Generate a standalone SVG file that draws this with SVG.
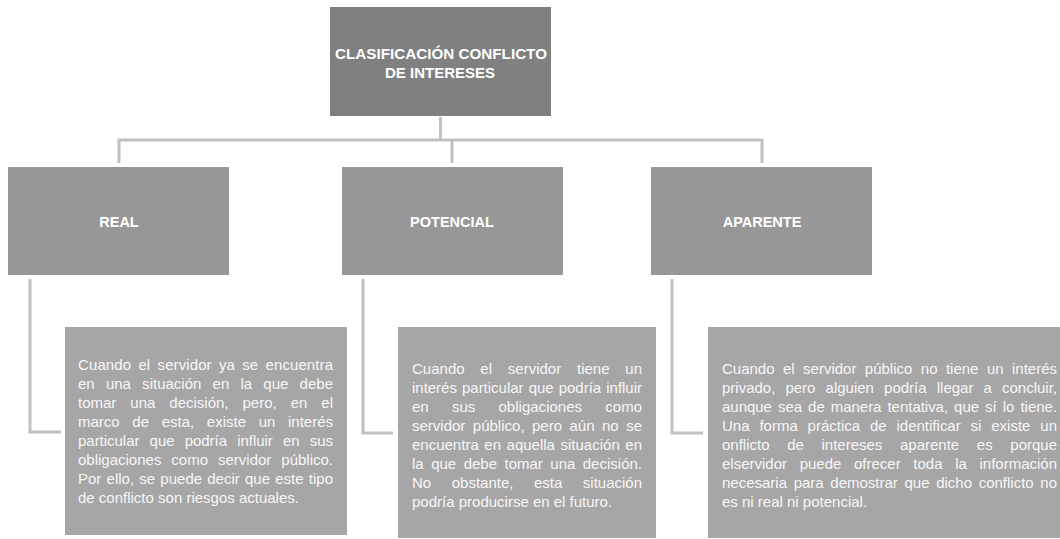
<svg xmlns="http://www.w3.org/2000/svg" width="1060" height="539" viewBox="0 0 1060 539">
<style>
.top{fill:#808080}
.l2{fill:#979797}
.l3{fill:#a6a6a6}
.h{font-family:"Liberation Sans",Arial,sans-serif;font-weight:bold;fill:#ffffff;text-anchor:middle}
.b{font-family:"Liberation Sans",Arial,sans-serif;font-size:15px;fill:#f7f7f7}
.c{fill:none;stroke:#c0c0c0;stroke-width:3}
</style>
<rect width="1060" height="539" fill="#ffffff"/>
<g id="connectors">
<path class="c" d="M440.5 117 V140"/>
<path class="c" d="M119 163 V140 H762 V163"/>
<path class="c" d="M452 140 V163"/>
<path class="c" d="M30 279 V432 H61"/>
<path class="c" d="M363 279 V433 H393"/>
<path class="c" d="M672 279 V433 H703"/>
</g>
<g id="root">
<rect class="top" x="330" y="7" width="221" height="109"/>
<text class="h" font-size="15" x="441" y="58.5" textLength="212" lengthAdjust="spacingAndGlyphs">CLASIFICACIÓN  CONFLICTO</text>
<text class="h" font-size="15" x="440" y="77.5">DE INTERESES</text>
</g>
<g id="real">
<rect class="l2" x="8" y="167" width="221" height="108"/>
<text class="h" font-size="14.5" x="119" y="227">REAL</text>
</g>
<g id="potencial">
<rect class="l2" x="342" y="167" width="221" height="108"/>
<text class="h" font-size="14.5" x="452" y="227">POTENCIAL</text>
</g>
<g id="aparente">
<rect class="l2" x="651" y="167" width="221" height="108"/>
<text class="h" font-size="14.5" x="762" y="227">APARENTE</text>
</g>
<g id="real-desc">
<rect class="l3" x="65" y="327" width="282" height="208"/>
<text class="b">
<tspan x="78" y="370" word-spacing="3" textLength="255" lengthAdjust="spacing">Cuando el servidor ya se encuentra</tspan>
</text>
<text class="b" x="78" y="389" word-spacing="7" textLength="255" lengthAdjust="spacing">en una situación en la que debe</text>
<text class="b" x="78" y="408" word-spacing="9.8" textLength="255" lengthAdjust="spacing">tomar una decisión, pero, en el</text>
<text class="b" x="78" y="427" word-spacing="8.5" textLength="255" lengthAdjust="spacing">marco de esta, existe un interés</text>
<text class="b" x="78" y="446" word-spacing="6" textLength="255" lengthAdjust="spacing">particular que podría influir en sus</text>
<text class="b" x="78" y="465" word-spacing="5.8" textLength="255" lengthAdjust="spacing">obligaciones como servidor público.</text>
<text class="b" x="78" y="484" word-spacing="1" textLength="255" lengthAdjust="spacing">Por ello, se puede decir que este tipo</text>
<text class="b" x="78" y="503">de conflicto  son riesgos actuales.</text>
</g>
<g id="potencial-desc">
<rect class="l3" x="398" y="327" width="258" height="211"/>
<text class="b" x="412" y="374" word-spacing="11.6" textLength="230" lengthAdjust="spacing">Cuando el servidor tiene un</text>
<text class="b" x="412" y="393" word-spacing="1" textLength="230" lengthAdjust="spacing">interés particular que podría influir</text>
<text class="b" x="412" y="412" word-spacing="19" textLength="230" lengthAdjust="spacing">en sus obligaciones como</text>
<text class="b" x="412" y="431" word-spacing="3.3" textLength="230" lengthAdjust="spacing">servidor público, pero aún no se</text>
<text class="b" x="412" y="450" word-spacing="1.4" textLength="230" lengthAdjust="spacing">encuentra en aquella situación en</text>
<text class="b" x="412" y="469" word-spacing="3.3" textLength="230" lengthAdjust="spacing">la que debe tomar una decisión.</text>
<text class="b" x="412" y="488" word-spacing="16.4" textLength="230" lengthAdjust="spacing">No obstante, esta situación</text>
<text class="b" x="412" y="507">podría producirse en el futuro.</text>
</g>
<g id="aparente-desc">
<rect class="l3" x="708" y="327" width="352" height="211"/>
<text class="b" x="722" y="374" word-spacing="4.3" textLength="335" lengthAdjust="spacing">Cuando el servidor público no tiene un interés</text>
<text class="b" x="722" y="393" word-spacing="6" textLength="335" lengthAdjust="spacing">privado, pero alguien podría llegar a concluir,</text>
<text class="b" x="722" y="412" word-spacing="1.9" textLength="335" lengthAdjust="spacing">aunque sea de manera tentativa, que sí lo tiene.</text>
<text class="b" x="722" y="431" word-spacing="5.7" textLength="335" lengthAdjust="spacing">Una forma práctica de identificar si existe un</text>
<text class="b" x="722" y="450" word-spacing="13.5" textLength="335" lengthAdjust="spacing">onflicto de intereses aparente es porque</text>
<text class="b" x="722" y="469" word-spacing="8.5" textLength="335" lengthAdjust="spacing">elservidor puede ofrecer toda la información</text>
<text class="b" x="722" y="488" word-spacing="2.5" textLength="335" lengthAdjust="spacing">necesaria para demostrar que dicho conflicto no</text>
<text class="b" x="722" y="507">es ni real ni potencial.</text>
</g>
</svg>
